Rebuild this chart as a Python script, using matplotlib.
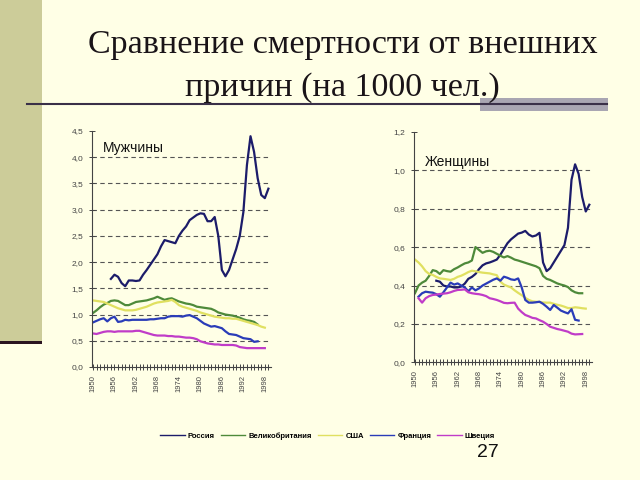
import numpy as np
import matplotlib.pyplot as plt
from matplotlib.lines import Line2D

plt.rcParams['font.family'] = ['Liberation Sans', 'DejaVu Sans']

countries = ["Россия", "Великобритания", "США", "Франция", "Швеция"]
colors = ["#1c1c6a", "#4e8a3a", "#e0e060", "#2a3cb8", "#c03cc8"]

# men, per 1000 (start year, values)
men_russia_start = 1955
men_russia = [1.68, 1.76, 1.72, 1.60, 1.54, 1.65, 1.65, 1.64, 1.65, 1.76,
              1.85, 1.95, 2.05, 2.15, 2.30, 2.42, 2.40, 2.38, 2.36, 2.50,
              2.60, 2.68, 2.80, 2.85, 2.90, 2.93, 2.92, 2.78, 2.78, 2.86,
              2.50, 1.85, 1.73, 1.85, 2.05, 2.25, 2.50, 2.95, 3.85, 4.40,
              4.10, 3.60, 3.28, 3.22, 3.40]
men_uk_start = 1950
men_uk = [1.03, 1.08, 1.14, 1.19, 1.22, 1.26, 1.27, 1.26, 1.22, 1.18,
          1.18, 1.21, 1.24, 1.25, 1.26, 1.27, 1.29, 1.31, 1.34, 1.31,
          1.28, 1.30, 1.31, 1.28, 1.25, 1.23, 1.21, 1.20, 1.18, 1.15,
          1.14, 1.13, 1.12, 1.11, 1.08, 1.04, 1.02, 1.00, 0.99, 0.98,
          0.96, 0.94, 0.91, 0.89, 0.88, 0.86, 0.81]
men_usa_start = 1950
men_usa = [1.27, 1.26, 1.25, 1.24, 1.21, 1.18, 1.15, 1.12, 1.10, 1.08,
           1.08, 1.08, 1.09, 1.11, 1.13, 1.15, 1.18, 1.21, 1.23, 1.24,
           1.25, 1.26, 1.28, 1.24, 1.18, 1.15, 1.13, 1.11, 1.09, 1.07,
           1.04, 1.02, 1.00, 0.98, 0.96, 0.95, 0.94, 0.93, 0.93, 0.92,
           0.92, 0.90, 0.88, 0.86, 0.84, 0.82, 0.80, 0.77, 0.75]
men_france_start = 1950
men_france = [0.85, 0.88, 0.91, 0.93, 0.87, 0.93, 0.96, 0.86, 0.87, 0.90,
              0.89, 0.90, 0.90, 0.90, 0.90, 0.90, 0.91, 0.91, 0.92, 0.93,
              0.93, 0.96, 0.97, 0.97, 0.97, 0.96, 0.98, 0.99, 0.96, 0.93,
              0.88, 0.83, 0.80, 0.77, 0.78, 0.76, 0.74, 0.68, 0.63, 0.62,
              0.61, 0.58, 0.55, 0.54, 0.53, 0.48, 0.49]
men_sweden_start = 1950
men_sweden = [0.64, 0.63, 0.65, 0.67, 0.68, 0.68, 0.67, 0.68, 0.68, 0.68,
              0.68, 0.68, 0.69, 0.69, 0.67, 0.65, 0.63, 0.61, 0.60, 0.60,
              0.60, 0.59, 0.59, 0.58, 0.58, 0.57, 0.56, 0.56, 0.55, 0.53,
              0.49, 0.47, 0.45, 0.44, 0.43, 0.43, 0.42, 0.42, 0.42, 0.42,
              0.41, 0.38, 0.37, 0.36, 0.36, 0.36, 0.36, 0.36, 0.36]

# women, per 1000
wom_russia_start = 1956
wom_russia = [0.425, 0.42, 0.40, 0.395, 0.395, 0.39, 0.39, 0.395, 0.41, 0.435,
              0.445, 0.46, 0.485, 0.505, 0.515, 0.52, 0.527, 0.535, 0.56, 0.59,
              0.62, 0.64, 0.655, 0.67, 0.675, 0.684, 0.665, 0.655, 0.66, 0.674,
              0.52, 0.475, 0.49, 0.52, 0.55, 0.58, 0.61, 0.70, 0.95, 1.03,
              0.98, 0.86, 0.785, 0.82]
wom_uk_start = 1950
wom_uk = [0.36, 0.40, 0.415, 0.425, 0.45, 0.48, 0.475, 0.46, 0.48, 0.475,
          0.472, 0.485, 0.494, 0.505, 0.515, 0.52, 0.53, 0.60, 0.585, 0.57,
          0.578, 0.581, 0.575, 0.565, 0.555, 0.546, 0.553, 0.545, 0.535, 0.53,
          0.524, 0.518, 0.512, 0.506, 0.50, 0.49, 0.45, 0.435, 0.429, 0.42,
          0.411, 0.405, 0.40, 0.392, 0.375, 0.365, 0.36, 0.36]
wom_usa_start = 1950
wom_usa = [0.535, 0.52, 0.50, 0.475, 0.46, 0.455, 0.445, 0.437, 0.435, 0.432,
           0.429, 0.435, 0.445, 0.451, 0.46, 0.47, 0.477, 0.474, 0.47, 0.467,
           0.465, 0.463, 0.458, 0.454, 0.42, 0.405, 0.397, 0.39, 0.375, 0.362,
           0.35, 0.336, 0.325, 0.318, 0.316, 0.314, 0.312, 0.311, 0.311, 0.305,
           0.30, 0.296, 0.29, 0.283, 0.283, 0.287, 0.285, 0.282, 0.28]
wom_france_start = 1951
wom_france = [0.342, 0.36, 0.368, 0.365, 0.363, 0.355, 0.342, 0.365, 0.39, 0.415,
              0.405, 0.411, 0.40, 0.39, 0.37, 0.39, 0.375, 0.385, 0.40, 0.41,
              0.42, 0.43, 0.437, 0.425, 0.446, 0.44, 0.432, 0.429, 0.437, 0.39,
              0.325, 0.311, 0.311, 0.313, 0.316, 0.305, 0.29, 0.273, 0.299, 0.285,
              0.27, 0.262, 0.255, 0.277, 0.222, 0.218]
wom_sweden_start = 1951
wom_sweden = [0.334, 0.311, 0.334, 0.345, 0.351, 0.353, 0.356, 0.358, 0.36, 0.365,
              0.372, 0.377, 0.378, 0.38, 0.365, 0.36, 0.357, 0.355, 0.351, 0.345,
              0.334, 0.33, 0.325, 0.318, 0.31, 0.308, 0.31, 0.311, 0.28, 0.262,
              0.247, 0.24, 0.232, 0.229, 0.22, 0.212, 0.2, 0.186, 0.18, 0.174,
              0.17, 0.165, 0.16, 0.15, 0.146, 0.147, 0.148]

men = [(men_russia_start, men_russia), (men_uk_start, men_uk), (men_usa_start, men_usa),
       (men_france_start, men_france), (men_sweden_start, men_sweden)]
women = [(wom_russia_start, wom_russia), (wom_uk_start, wom_uk), (wom_usa_start, wom_usa),
         (wom_france_start, wom_france), (wom_sweden_start, wom_sweden)]

x_labels = [1950, 1956, 1962, 1968, 1974, 1980, 1986, 1992, 1998]
men_yticks = [0.0, 0.5, 1.0, 1.5, 2.0, 2.5, 3.0, 3.5, 4.0, 4.5]
wom_yticks = [0.0, 0.2, 0.4, 0.6, 0.8, 1.0, 1.2]

bg = "#ffffe6"
fig = plt.figure(figsize=(6.4, 4.8), dpi=100)
fig.patch.set_facecolor(bg)

# slide decoration: left strip, rule under the title
fig.patches.append(plt.Rectangle((0, 1 - 341/480), 42/640, 341/480, transform=fig.transFigure,
                                 facecolor="#cccc99", edgecolor="none", zorder=0))
fig.patches.append(plt.Rectangle((0, 1 - 344/480), 42/640, 3/480, transform=fig.transFigure,
                                 facecolor="#2a1420", edgecolor="none", zorder=1))
fig.patches.append(plt.Rectangle((480/640, 1 - 111/480), 128/640, 13/480, transform=fig.transFigure,
                                 facecolor="#a9a6b2", edgecolor="none", zorder=1))
fig.lines.append(Line2D([27/640, 607/640], [1 - 104/480, 1 - 104/480], transform=fig.transFigure,
                        color="#3a3048", lw=1.5, zorder=2))

fig.text(0.535, 0.906, "Сравнение смертности от внешних", family=["Liberation Serif"],
         fontsize=24.5, ha="center", va="center", color="#1a1418")
fig.text(0.535, 0.817, "причин (на 1000 чел.)", family=["Liberation Serif"],
         fontsize=24.5, ha="center", va="center", color="#1a1418")


def draw(ax, data, yticks, label, lx, ly):
    ax.set_facecolor(bg)
    for (start, vals), c in zip(data, colors):
        yrs = np.arange(start, start + len(vals))
        ax.plot(yrs, vals, color=c, lw=1.6)
    ax.set_xlim(1949.7, 1999.7)
    ax.set_ylim(yticks[0], yticks[-1])
    for y in yticks[1:-1]:
        ax.axhline(y, color="#555555", lw=0.8, ls=(0, (4, 3)), zorder=0)
    ax.set_yticks(yticks)
    ax.set_yticklabels([f"{v:.1f}".replace(".", ",") for v in yticks], fontsize=6, color="#444444")
    ax.set_xticks(x_labels)
    ax.set_xticklabels([str(v) for v in x_labels], rotation=90, fontsize=5.5, color="#444444")
    ax.set_xticks(np.arange(1950, 2000), minor=True)
    ax.tick_params(axis="x", which="both", direction="inout", length=4, width=0.7, color="#444444")
    ax.tick_params(axis="y", direction="inout", length=5, width=0.7, color="#444444")
    for s in ["top", "right"]:
        ax.spines[s].set_visible(False)
    for s in ["left", "bottom"]:
        ax.spines[s].set_color("#444444")
        ax.spines[s].set_linewidth(0.8)
    ax.text(lx, ly, label, transform=ax.transAxes, fontsize=10, color="#111111", va="center")


ax1 = fig.add_axes([0.1436, 0.2354, 0.2797, 0.4917])
draw(ax1, men, men_yticks, "Мужчины", 0.06, 0.93)
ax2 = fig.add_axes([0.6467, 0.2448, 0.278, 0.481])
draw(ax2, women, wom_yticks, "Женщины", 0.06, 0.87)

handles = [Line2D([], [], color=c, lw=1.0) for c in colors]
fig.legend(handles, countries, loc="center", bbox_to_anchor=(0.512, 0.092), ncol=5,
           frameon=False, handlelength=3.2, handletextpad=0.4, columnspacing=0.8,
           prop={"weight": "bold", "size": 5.5})

fig.text(0.762, 0.058, "27", fontsize=14, ha="center", va="center", color="#111111")

plt.savefig("out.png", dpi=100, facecolor=bg)
